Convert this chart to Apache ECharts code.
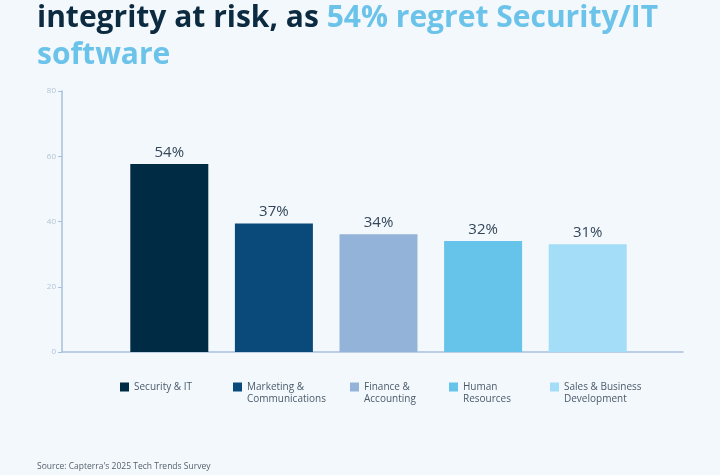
<!DOCTYPE html>
<html>
<head>
<meta charset="utf-8">
<title>Software regret by category</title>
<script src="https://cdn.jsdelivr.net/npm/echarts@6/dist/echarts.min.js"></script>
<style>
    html, body {margin: 0; padding: 0; background: #f3f8fc;}
    #regretChart {width: 720px; height: 475px;}
</style>
</head>
<body>
<div id="regretChart"></div>
<script>
// 数据
var categories = ['Security & IT', 'Marketing & Communications', 'Finance & Accounting', 'Human Resources', 'Sales & Business Development'];
var legendLines = ['Security & IT', 'Marketing &\nCommunications', 'Finance &\nAccounting', 'Human\nResources', 'Sales & Business\nDevelopment'];
var barValues = [57.6, 39.4, 36.1, 34.0, 33.0];   // bar heights as drawn on the axis
var barLabels = ['54%', '37%', '34%', '32%', '31%'];
var barColors = ['#002b45', '#0a4a7b', '#93b4d8', '#66c3ea', '#a4ddf8'];
var yTicks = [0, 20, 40, 60, 80];

var legendLeft = [120, 233, 350, 449, 550];

var chart = echarts.init(document.getElementById('regretChart'));

var series = [];
var legends = [];
for (var i = 0; i < categories.length; i++) {
    var data = [];
    for (var j = 0; j < categories.length; j++) {
        data.push(j == i ? barValues[i] : '-');
    }
    series.push({
        name: categories[i],
        type: 'bar',
        stack: 'one',
        xAxisIndex: 1,
        yAxisIndex: 1,
        barWidth: 78,
        itemStyle: {color: barColors[i]},
        label: {
            show: true,
            position: 'top',
            distance: 4,
            fontFamily: 'Open Sans',
            fontSize: 15,
            color: '#34475a',
            formatter: (function (k) {
                return function () { return barLabels[k]; };
            })(i)
        },
        data: data
    });
    // two line names get an empty first line so the icon sits next to the first real line
    var twoLines = legendLines[i].indexOf('\n') > -1;
    legends.push({
        data: [categories[i]],
        left: legendLeft[i],
        top: twoLines ? 369 : 381,
        padding: 0,
        itemWidth: 9,
        itemHeight: 9,
        itemGap: 0,
        icon: 'rect',
        selectedMode: false,
        formatter: (function (k, two) {
            return function () { return (two ? ' \n' : '') + legendLines[k]; };
        })(i, twoLines),
        textStyle: {
            fontFamily: 'Open Sans',
            fontSize: 10,
            lineHeight: 12,
            color: '#4a5a6b'
        }
    });
}

var option = {
    backgroundColor: '#f3f8fc',
    animation: false,
    title: [
        {
            text: '{d|integrity at risk, as }{b|54% regret Security/IT}\n{b|software}',
            left: 37,
            top: 0,
            padding: 0,
            textStyle: {
                rich: {
                    d: {fontFamily: 'Open Sans', fontWeight: 'bold', fontSize: 30, lineHeight: 37, color: '#0c2a40'},
                    b: {fontFamily: 'Open Sans', fontWeight: 'bold', fontSize: 30, lineHeight: 37, color: '#6cc3ea'}
                }
            }
        },
        {
            text: "Source: Capterra's 2025 Tech Trends Survey",
            left: 37,
            top: 462,
            padding: 0,
            textStyle: {fontFamily: 'Open Sans', fontWeight: 'normal', fontSize: 8.5, color: '#555f6a'}
        }
    ],
    legend: legends,
    grid: [
        {left: 62, right: 37, top: 91, bottom: 123},
        {left: 117, right: 80, top: 91, bottom: 123}
    ],
    xAxis: [
        {
            gridIndex: 0,
            type: 'category',
            data: [''],
            axisLine: {lineStyle: {color: '#a9c0dd', width: 1.5}},
            axisTick: {show: false},
            axisLabel: {show: false}
        },
        {
            gridIndex: 1,
            type: 'category',
            data: categories,
            show: false
        }
    ],
    yAxis: [
        {
            gridIndex: 0,
            type: 'value',
            min: yTicks[0],
            max: yTicks[yTicks.length - 1],
            interval: 20,
            axisLine: {show: true, lineStyle: {color: '#a9c0dd', width: 1.5}},
            axisTick: {show: true, length: 4, lineStyle: {color: '#a9c0dd'}},
            axisLabel: {fontFamily: 'Open Sans', fontSize: 8, color: '#b3c3d6', margin: 6},
            splitLine: {show: false}
        },
        {
            gridIndex: 1,
            type: 'value',
            min: yTicks[0],
            max: yTicks[yTicks.length - 1],
            show: false,
            splitLine: {show: false}
        }
    ],
    series: series
};

chart.setOption(option);
</script>
</body>
</html>
